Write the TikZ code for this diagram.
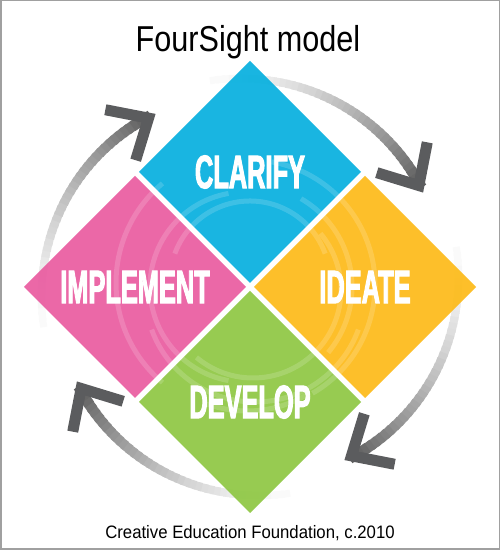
\documentclass[tikz,border=0pt]{standalone}
\usepackage{fontspec}
\setmainfont{Liberation Sans}
\newfontfamily\headfont[FakeStretch=0.85]{Liberation Sans}
\newfontfamily\notefont[FakeStretch=0.93]{Liberation Sans}
\newfontfamily\stagefont[FakeStretch=0.54,FakeBold=2]{Liberation Sans}
\usepackage{tikz}
\usetikzlibrary{shapes.geometric,calc}

\definecolor{clarifyblue}{HTML}{00AEDE}
\definecolor{ideateorange}{HTML}{FDB913}
\definecolor{developgreen}{HTML}{8CC63F}
\definecolor{implementpink}{HTML}{E9589E}
\definecolor{framegray}{HTML}{A0A0A0}
\definecolor{tipgray}{HTML}{5B5C5E}

\tikzset{
  stage/.style={diamond, minimum width=222pt, minimum height=222pt, inner sep=0pt, outer sep=0pt,
    fill opacity=0.9, text opacity=1, text=white, font=\stagefont\bfseries\fontsize{47}{47}\selectfont},
  swirl/.style={white, opacity=0.16, line width=5pt},
  chevron/.style={draw=tipgray, line width=11pt, miter limit=6},
}

% one arrow of the cycle: start angle, end angle (clockwise)
\newcommand{\cyclearc}[2]{%
  \foreach \i in {0,...,39}{%
    \pgfmathsetmacro{\angA}{#1+(#2-#1)*\i/40}%
    \pgfmathsetmacro{\angB}{#1+(#2-#1)*(\i+1.5)/40}%
    \pgfmathsetmacro{\rad}{210-12*\i/40}%
    \pgfmathsetmacro{\lw}{7+4*\i/40}%
    \pgfmathtruncatemacro{\shade}{2+63*(\i/40)^1.5}%
    \draw[line width=\lw pt, black!\shade] ($(centre)+(\angA:\rad)$) arc[start angle=\angA, end angle=\angB, radius=\rad];
  }%
  \coordinate (tip) at ($(centre)+(#2:197)$);
  \draw[chevron] ($(tip)+(#2+90+42:44)$) -- (tip) -- ($(tip)+(#2+90-42:44)$);
}

\begin{document}
\begin{tikzpicture}[x=1pt,y=1pt]
\useasboundingbox (0,0) rectangle (500,550);
\draw[framegray, line width=1.5pt, fill=white] (0.75,0.75) rectangle (499.25,549.25);

\coordinate (centre) at (250,263);

% cycle arrows
\cyclearc{101}{31}
\cyclearc{11}{-59}
\cyclearc{-79}{-149}
\cyclearc{191}{121}

\node[stage, fill=clarifyblue] (clarify) at (250,378) {};
\node[stage, fill=ideateorange] (ideate) at (365,263) {};
\node[stage, fill=developgreen] (develop) at (250,148) {};
\node[stage, fill=implementpink] (implement) at (135,263) {};

% faint rings over the centre
\foreach \r/\dx/\dy/\s/\e in {80/0/6/20/160, 95/-5/0/100/260, 110/5/-5/200/340, 125/0/2/-60/80,
  88/3/-3/230/400, 130/-4/4/130/230, 102/0/0/-40/60, 118/-3/-6/250/300}
  \draw[swirl] ($(centre)+(\dx,\dy)+(\s:\r)$) arc[start angle=\s, end angle=\e, radius=\r];

\node[stage] (clarify text) at (clarify) {CLARIFY};
\node[stage] (ideate text) at (ideate) {IDEATE};
\node[stage] (develop text) at (develop) {DEVELOP};
\node[stage] (implement text) at (implement) {IMPLEMENT};

\node[anchor=base, font=\headfont\fontsize{36}{36}\selectfont] (title) at (248,498) {FourSight model};
\node[anchor=base, font=\notefont\fontsize{18}{18}\selectfont] (source) at (250,12) {Creative Education Foundation, c.2010};
\end{tikzpicture}
\end{document}
